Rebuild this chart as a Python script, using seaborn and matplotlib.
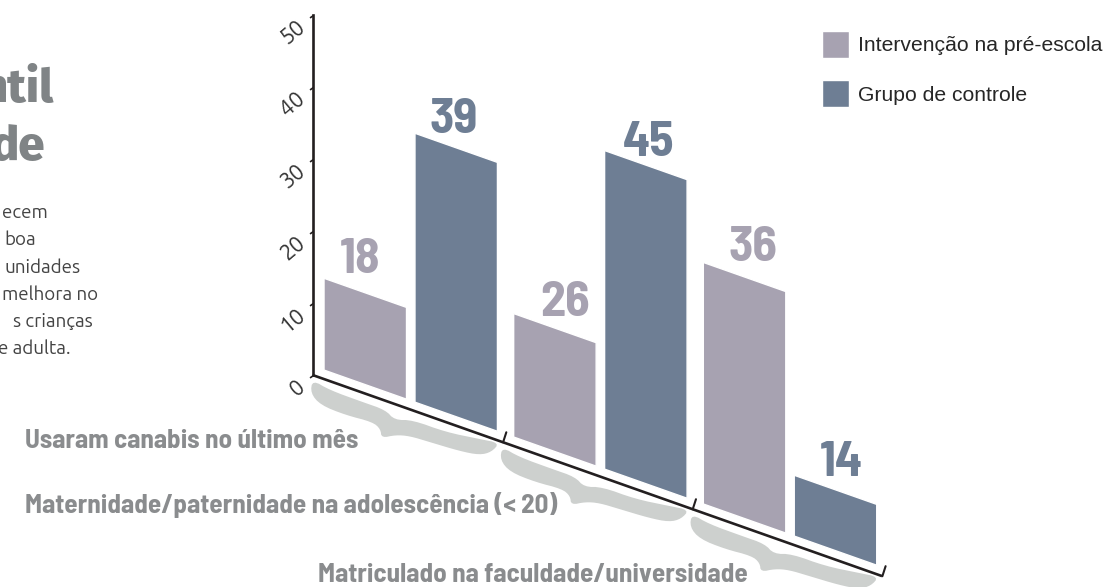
import numpy as np
import pandas as pd
import matplotlib
matplotlib.use("Agg")
import matplotlib.pyplot as plt
from matplotlib.path import Path
from matplotlib.patches import PathPatch
from matplotlib.transforms import Affine2D
import seaborn as sns

grupos = ["Usaram canabis no último mês",
          "Maternidade/paternidade na adolescência (< 20)",
          "Matriculado na faculdade/universidade"]
series = ["Intervenção na pré-escola", "Grupo de controle"]
altura_intervencao = [14.0, 18.4, 34.8]
altura_controle = [38.6, 45.5, 9.7]
rotulo_intervencao = ["18", "26", "36"]
rotulo_controle = ["39", "45", "14"]
yticks = [0, 10, 20, 30, 40, 50]

cor_intervencao = "#A7A2B1"
cor_controle = "#6E7E94"
cor_rotulo_grupo = "#8A8C8E"
cor_chave = "#CDD0CE"
cor_eixo = "#231F20"

W, H = 1107, 587
narrow = ["Barlow Semi Condensed", "Barlow Condensed", "DejaVu Sans"]
corpo = ["Ubuntu", "DejaVu Sans"]

sns.set_style("white")
plt.rcParams["font.family"] = corpo

df = pd.DataFrame({
    "grupo": grupos * 2,
    "serie": [series[0]] * 3 + [series[1]] * 3,
    "altura": altura_intervencao + altura_controle,
})

fig = plt.figure(figsize=(W / 100, H / 100), dpi=100)
ax = fig.add_axes([312.5 / W, (H - 375) / H, 569.5 / W, 360 / H])
ax.patch.set_alpha(0)

sns.barplot(data=df, x="grupo", y="altura", hue="serie", order=grupos, hue_order=series,
            palette=[cor_intervencao, cor_controle], width=0.959, gap=0.093,
            saturation=1, errorbar=None, ax=ax)

x0, x1 = -0.518, 2.485
ax.set_xlim(x0, x1)
ax.set_ylim(0, 50)

# shear so that the baseline runs downhill to the right
s = 9.3
shear = Affine2D.from_values(1, -s, 0, 1, 0, s * x0)
trans = shear + ax.transData

gap_base = 1.25
# label nudges in pixels, the numbers do not sit centred over the bars
desloc = [[(-5, 20), (10, 12), (8, 16)], [(-2.5, 15), (3, 9), (5.5, 14)]]
conjuntos = [(rotulo_intervencao, cor_intervencao), (rotulo_controle, cor_controle)]
for cont, (labs, cor), offs in zip(ax.containers, conjuntos, desloc):
    for bar, lab, off in zip(cont, labs, offs):
        h = bar.get_height()
        bar.set_y(gap_base)
        bar.set_height(h - gap_base)
        bar.set_transform(trans)
        bar.set_clip_on(False)
        ax.annotate(lab, xy=(bar.get_x() + bar.get_width() / 2, h), xycoords=trans,
                    xytext=off, textcoords="offset pixels", ha="center", va="baseline",
                    family=narrow, fontweight="bold", fontsize=36, color=cor)

# x axis line and slanted ticks
ax.plot([x0, x1], [0, 0], transform=trans, color=cor_eixo, lw=1.9, clip_on=False,
        solid_capstyle="butt")
for b in np.arange(3) + 0.487:
    ax.plot([b, b + 0.017], [0, 1.55], transform=trans, color=cor_eixo, lw=1.5, clip_on=False)

# braces under each group, shape is in pixels relative to its left tip
chave = np.array([(0, 0), (17, 10), (50, 22), (73, 30), (82, 40), (100, 40), (133, 52),
                  (167, 59), (187, 63), (179, 72), (167, 75), (147, 71), (117, 62),
                  (97, 56), (83, 55), (69, 58), (68, 49), (60, 42), (33, 35), (8, 25), (-2, 13)],
                 dtype=float)
for _ in range(2):
    prox = np.roll(chave, -1, axis=0)
    chave = np.column_stack([0.75 * chave + 0.25 * prox, 0.25 * chave + 0.75 * prox]).reshape(-1, 2)
chave_path = Path(chave, closed=False)
for i in range(3):
    px, py = trans.transform((x0 + i * 1.0, 0))
    ax.add_patch(PathPatch(chave_path, transform=Affine2D().scale(1, -1).translate(px, py - 5),
                           facecolor=cor_chave, edgecolor="none", clip_on=False))

# group names
pos_grupos = [(358, 441), (557, 505), (748, 575)]
for g, (gx, gy) in zip(grupos, pos_grupos):
    fig.text(gx / W, 1 - gy / H, g, ha="right", va="center", family=narrow, fontweight="bold",
             fontsize=19.5, color=cor_rotulo_grupo)

# y axis
ax.set_xticks([])
ax.set_xlabel("")
ax.set_ylabel("")
ax.set_yticks(yticks)
ax.set_yticklabels([str(t) for t in yticks], rotation=40, ha="right", va="top",
                   fontsize=16, color="#333333")
ax.tick_params(axis="y", left=True, length=3.5, width=1.2, color=cor_eixo, pad=-1)
for tick in ax.yaxis.get_major_ticks():
    tick.tick1line.set_marker(Path([(0, 0), (-1, -0.7)]))
    tick.tick1line.set_markersize(5)
for sp in ["top", "right", "bottom"]:
    ax.spines[sp].set_visible(False)
ax.spines["left"].set_color(cor_eixo)
ax.spines["left"].set_linewidth(1.9)

# legend
sns.move_legend(ax, "upper left", bbox_to_anchor=(822 / W, 1 - 31 / H),
                bbox_transform=fig.transFigure, title=None, frameon=False,
                handlelength=1.28, handleheight=1.587, handletextpad=0.43, labelspacing=1.05,
                borderpad=0, borderaxespad=0, prop={"family": "Liberation Sans", "size": 15.2})

# text cut off by the left edge of the page
for t, tx, ty in [("ntil", 54, 102), ("de", 45, 160)]:
    fig.text(tx / W, 1 - ty / H, t, ha="right", va="baseline", fontsize=34, fontweight=800,
             family=["Fira Sans", "DejaVu Sans"], color="#808486")
texto = [("ecem", 48, 218), ("boa", 36, 245), ("unidades", 81, 273),
         ("melhora no", 98, 300), ("s crianças", 93, 327), ("e adulta.", 71, 354)]
for t, tx, ty in texto:
    fig.text(tx / W, 1 - ty / H, t, ha="right", va="baseline", fontsize=13.5, color="#444444")

plt.savefig("out.png", dpi=100)
